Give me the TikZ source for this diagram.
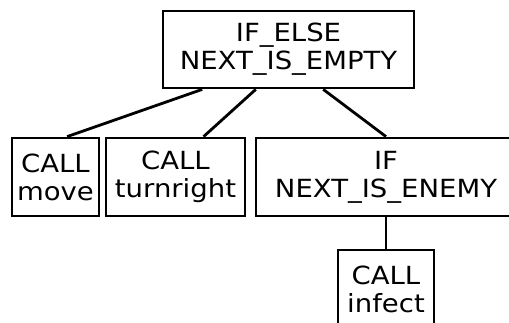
\documentclass[tikz,border=0pt]{standalone}
\usepackage{fontspec}
\setmainfont[FakeStretch=1.1]{DejaVu Sans}
\usetikzlibrary{calc}
\begin{document}
\begin{tikzpicture}[x=1pt,y=1pt,
  treebox/.style={draw, line width=2.8pt, rectangle, inner sep=0pt, align=center,
    font=\fontsize{25}{28}\selectfont},
  edge/.style={line width=2.8pt}]
\useasboundingbox (0,0) rectangle (509,322);
% tree nodes
\node[treebox, minimum width=251, minimum height=77] (top) at (288.5,272.5) {IF\_ELSE\\NEXT\_IS\_EMPTY};
\node[treebox, minimum width=87, minimum height=78] (move) at (55.5,145) {CALL\\move};
\node[treebox, minimum width=139, minimum height=78] (turn) at (175.5,145) {CALL\\turnright};
\node[treebox, minimum width=260, minimum height=78] (ifen) at (386,145) {IF\\NEXT\_IS\_ENEMY};
\node[treebox, minimum width=96, minimum height=78] (infect) at (386,33) {CALL\\infect};
% branches
\draw[edge] ($(top.south west)!0.16!(top.south east)$) -- ($(move.north west)!0.63!(move.north east)$);
\draw[edge] ($(top.south west)!0.371!(top.south east)$) -- ($(turn.north west)!0.698!(turn.north east)$);
\draw[edge] ($(top.south west)!0.637!(top.south east)$) -- (ifen.north);
\draw[edge] (ifen.south) -- (infect.north);
\end{tikzpicture}
\end{document}
